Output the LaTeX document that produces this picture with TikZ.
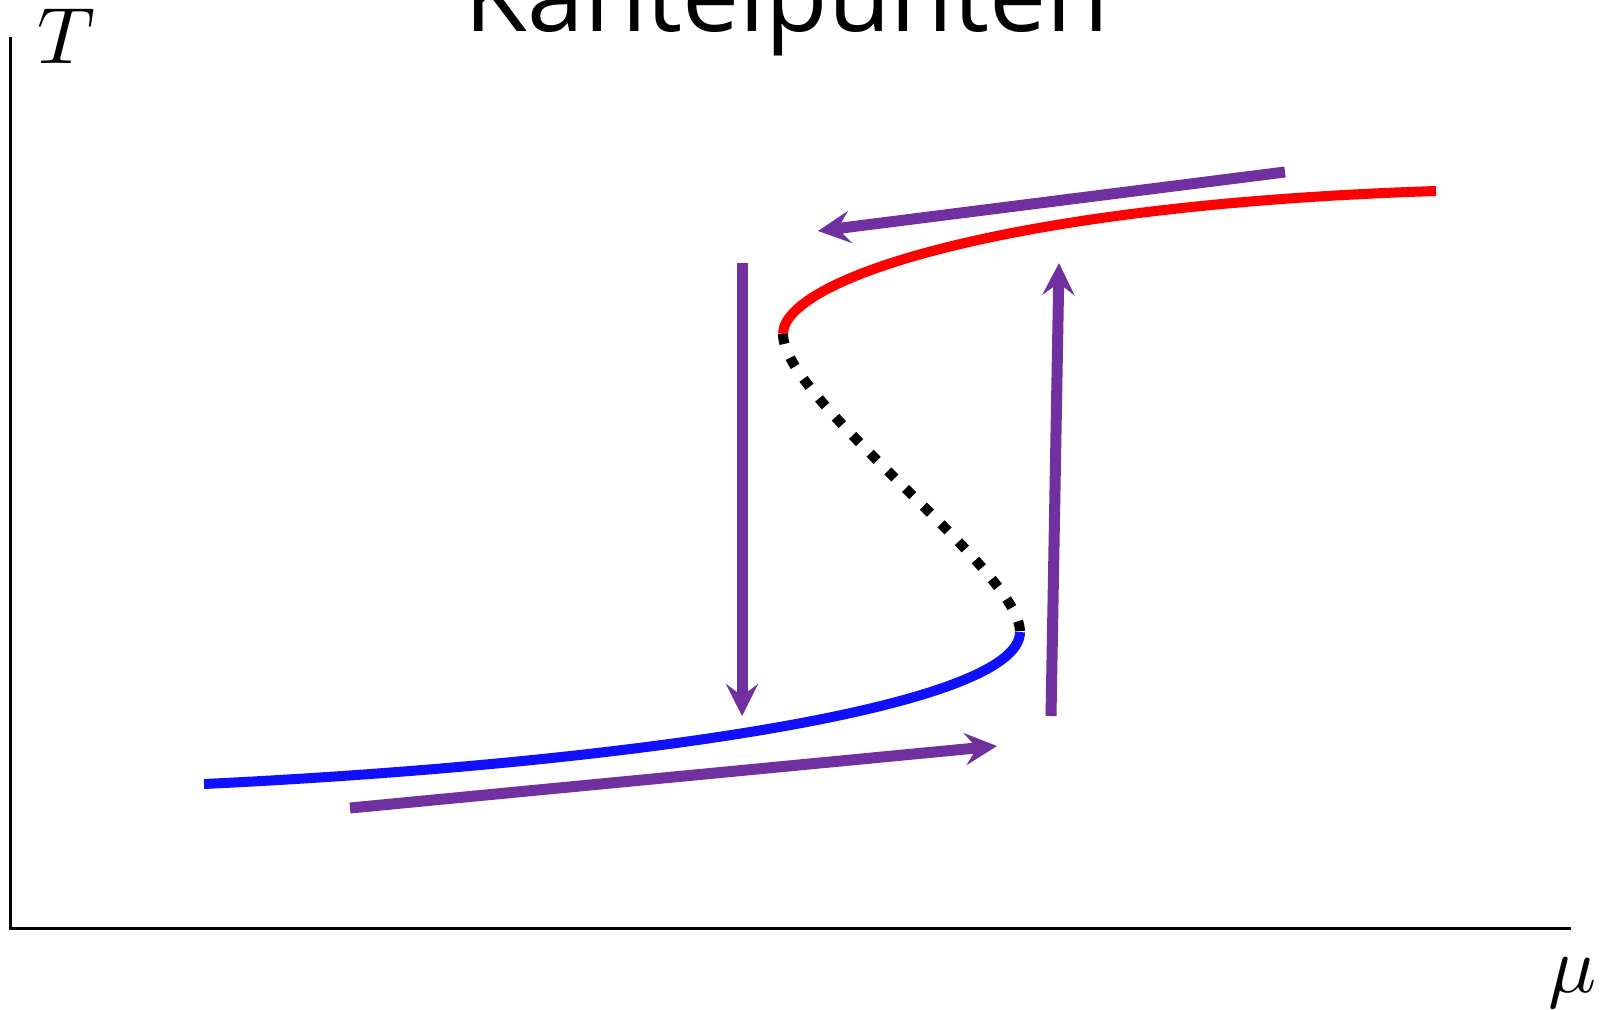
\documentclass[tikz,border=0pt]{standalone}
\usepackage{fontspec}
\setmainfont{Open Sans}
\usetikzlibrary{arrows.meta}
\definecolor{hotred}{RGB}{255,0,0}
\definecolor{coldblue}{RGB}{16,16,255}
\definecolor{jumppurple}{RGB}{112,48,160}

\begin{document}
\begin{tikzpicture}[x=1pt,y=-1pt]
\tikzstyle{axis}=[draw=black,line width=3pt]
\tikzstyle{branch}=[line width=10pt]
\tikzstyle{jump}=[draw=jumppurple,line width=11pt,
-{Stealth[length=32pt,width=32pt,inset=12pt]}]
\tikzstyle{varlab}=[anchor=base west,inner sep=0pt,scale=8]
\useasboundingbox (0,0) rectangle (1603,1009);
\node[anchor=base,inner sep=0pt,font=\fontsize{102}{110}\selectfont] (title) at (787,31) {Kantelpunten};
% axes
\draw[axis] (10,37) -- (10,928) -- (1571,928);
\node[varlab] (tlab) at (36,63) {$T$};
\node[varlab] (mulab) at (1547,992) {$\mu$};
% branches
\coordinate (upper) at (783,334);
\coordinate (lower) at (1020,632);
\coordinate (hot) at (1436,191);
\coordinate (cold) at (204,784);
\draw[branch,draw=hotred] (upper) .. controls (783,280) and (1000,205) .. (hot);
\draw[branch,draw=coldblue] (lower) .. controls (1020,708) and (620,764) .. (cold);
\draw[branch,dash pattern=on 10pt off 15pt] (upper) .. controls (783,400) and (1020,570) .. (lower);
% jumps
\coordinate (cools) at (1285,172);
\coordinate (coole) at (818,231);
\coordinate (drops) at (742,263);
\coordinate (drope) at (742,716);
\coordinate (rises) at (1051,716);
\coordinate (risee) at (1059,263);
\coordinate (heats) at (350,808);
\coordinate (heate) at (997,746);
\draw[jump] (cools) -- (coole);
\draw[jump] (drops) -- (drope);
\draw[jump] (rises) -- (risee);
\draw[jump] (heats) -- (heate);
\end{tikzpicture}
\end{document}
